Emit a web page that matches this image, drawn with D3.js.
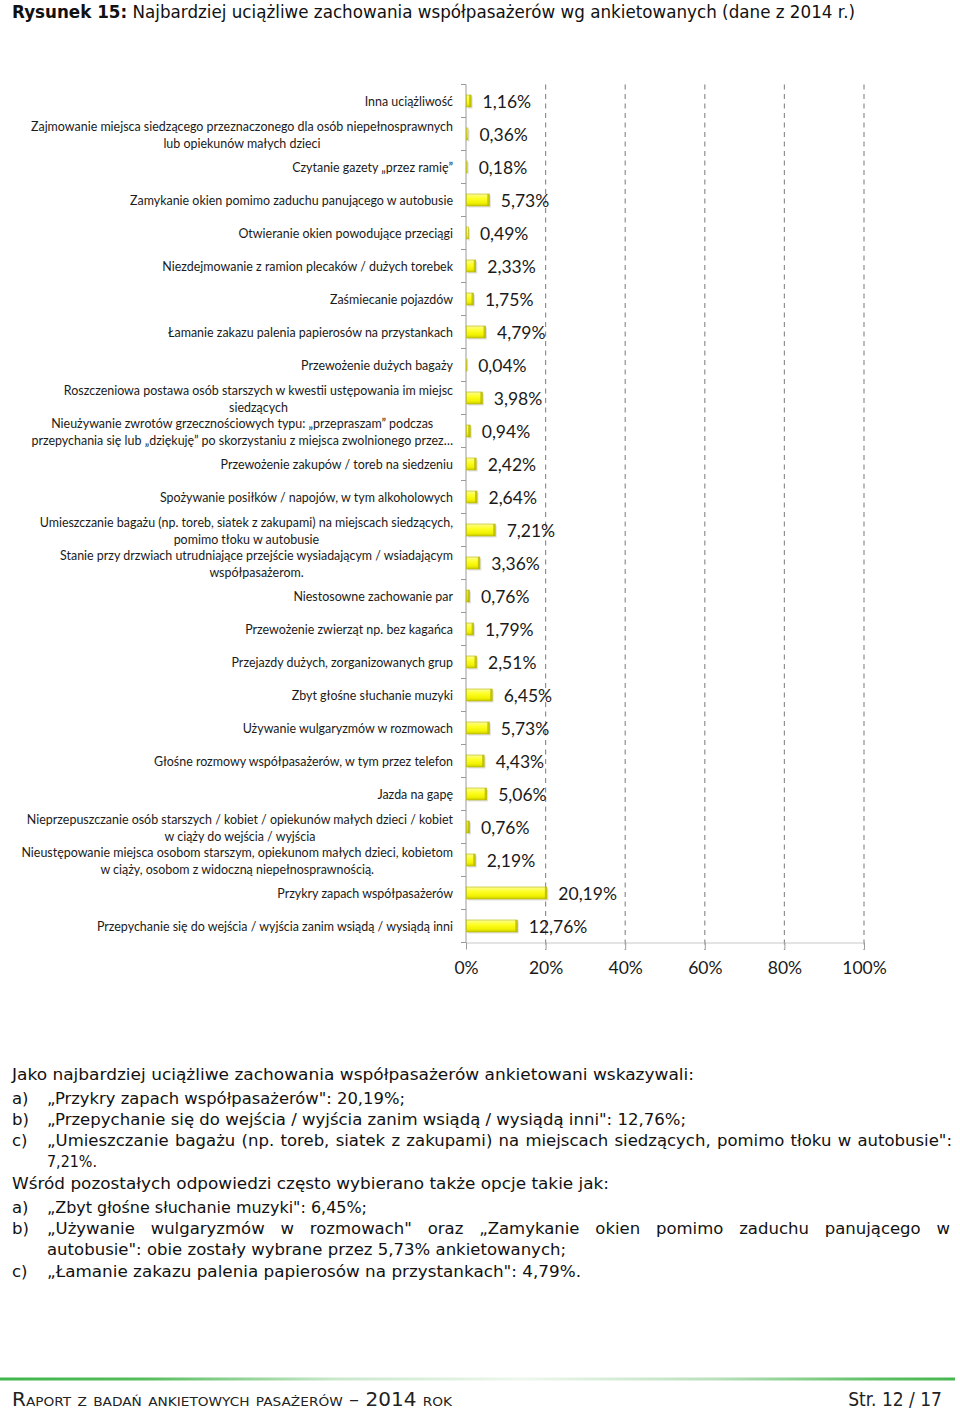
<!DOCTYPE html>
<html><head><meta charset="utf-8">
<script src="https://cdn.jsdelivr.net/npm/d3@7"></script>
<style>body{margin:0;background:#fff} svg{display:block}</style>
</head><body>
<svg id="c" width="960" height="1409"></svg>
<script>
// ---------- DATA ----------
const categories = [
  "Inna uciążliwość",
  "Zajmowanie miejsca siedzącego przeznaczonego dla osób niepełnosprawnych\nlub opiekunów małych dzieci",
  "Czytanie gazety „przez ramię”",
  "Zamykanie okien pomimo zaduchu panującego w autobusie",
  "Otwieranie okien powodujące przeciągi",
  "Niezdejmowanie z ramion plecaków / dużych torebek",
  "Zaśmiecanie pojazdów",
  "Łamanie zakazu palenia papierosów na przystankach",
  "Przewożenie dużych bagaży",
  "Roszczeniowa postawa osób starszych w kwestii ustępowania im miejsc\nsiedzących",
  "Nieużywanie zwrotów grzecznościowych typu: „przepraszam” podczas\nprzepychania się lub „dziękuję” po skorzystaniu z miejsca zwolnionego przez…",
  "Przewożenie zakupów / toreb na siedzeniu",
  "Spożywanie posiłków / napojów, w tym alkoholowych",
  "Umieszczanie bagażu (np. toreb, siatek z zakupami) na miejscach siedzących,\npomimo tłoku w autobusie",
  "Stanie przy drzwiach utrudniające przejście wysiadającym / wsiadającym\nwspółpasażerom.",
  "Niestosowne zachowanie par",
  "Przewożenie zwierząt np. bez kagańca",
  "Przejazdy dużych, zorganizowanych grup",
  "Zbyt głośne słuchanie muzyki",
  "Używanie wulgaryzmów w rozmowach",
  "Głośne rozmowy współpasażerów, w tym przez telefon",
  "Jazda na gapę",
  "Nieprzepuszczanie osób starszych / kobiet / opiekunów małych dzieci / kobiet\nw ciąży do wejścia / wyjścia",
  "Nieustępowanie miejsca osobom starszym, opiekunom małych dzieci, kobietom\nw ciąży, osobom z widoczną niepełnosprawnością.",
  "Przykry zapach współpasażerów",
  "Przepychanie się do wejścia / wyjścia zanim wsiądą / wysiądą inni"
];
const values = [1.16,0.36,0.18,5.73,0.49,2.33,1.75,4.79,0.04,3.98,0.94,2.42,2.64,7.21,3.36,0.76,1.79,2.51,6.45,5.73,4.43,5.06,0.76,2.19,20.19,12.76];
const tickValues = [0,20,40,60,80,100];
const titleBold = "Rysunek 15:";
const titleRest = " Najbardziej uciążliwe zachowania współpasażerów wg ankietowanych (dane z 2014 r.)";
const paragraphLines = [
  {mark:"", text:"Jako najbardziej uciążliwe zachowania współpasażerów ankietowani wskazywali:"},
  {mark:"a)", text:"„Przykry zapach współpasażerów\": 20,19%;"},
  {mark:"b)", text:"„Przepychanie się do wejścia / wyjścia zanim wsiądą / wysiądą inni\": 12,76%;"},
  {mark:"c)", text:"„Umieszczanie bagażu (np. toreb, siatek z zakupami) na miejscach siedzących, pomimo tłoku w autobusie\":"},
  {mark:"", text:"7,21%.", indent:true},
  {mark:"", text:"Wśród pozostałych odpowiedzi często wybierano także opcje takie jak:"},
  {mark:"a)", text:"„Zbyt głośne słuchanie muzyki\": 6,45%;"},
  {mark:"b)", text:"„Używanie wulgaryzmów w rozmowach\" oraz „Zamykanie okien pomimo zaduchu panującego w"},
  {mark:"", text:"autobusie\": obie zostały wybrane przez 5,73% ankietowanych;", indent:true},
  {mark:"c)", text:"„Łamanie zakazu palenia papierosów na przystankach\":  4,79%."}
];
const footerLeft = "Raport z badań ankietowych pasażerów – 2014 rok";
const footerRight = "Str. 12 / 17";

// ---------- LAYOUT ----------
const lineLayout = [
  {y:1080, end:694, just:false},
  {y:1104, end:405, just:false},
  {y:1125, end:686, just:false},
  {y:1146, end:952, just:true},
  {y:1167, end:97,  just:false},
  {y:1189, end:609, just:false},
  {y:1213, end:367, just:false},
  {y:1234, end:950, just:true},
  {y:1255, end:566, just:false},
  {y:1277, end:581, just:false}
];

const svg = d3.select("#c");
const defs = svg.append("defs");
const g1 = defs.append("linearGradient").attr("id","barG").attr("x1",0).attr("y1",0).attr("x2",0).attr("y2",1);
[["0%","#fbfb9c"],["35%","#ffff2a"],["75%","#f2f200"],["100%","#c9c900"]].forEach(s=>g1.append("stop").attr("offset",s[0]).attr("stop-color",s[1]));
const g2 = defs.append("linearGradient").attr("id","greenG").attr("x1",0).attr("y1",0).attr("x2",1).attr("y2",0);
[["0%","#3fb54a"],["15%","#55bd5c"],["35%","#c9e8cb"],["55%","#eef7ee"],["75%","#b9e0bb"],["92%","#5cc063"],["100%","#46b64f"]].forEach(s=>g2.append("stop").attr("offset",s[0]).attr("stop-color",s[1]));

const x = d3.scaleLinear().domain([0,100]).range([466,864]);
const y = d3.scaleBand().domain(d3.range(categories.length)).range([84.5,942.5]).padding(0);
const bottomY = 942.5;

// title
const title = svg.append("text").attr("x",12).attr("y",18)
  .style("font-family","'DejaVu Sans', sans-serif").style("font-size","17px").attr("fill","#111");
title.append("tspan").attr("font-weight","bold").text(titleBold);
title.append("tspan").text(titleRest);
title.attr("textLength",843).attr("lengthAdjust","spacingAndGlyphs");

// gridlines
svg.append("g").selectAll("line").data(tickValues.filter(d=>d>0)).join("line")
  .attr("x1",d=>x(d)).attr("x2",d=>x(d)).attr("y1",84.5).attr("y2",950)
  .attr("stroke","#8f8f8f").attr("stroke-width",1.2).attr("stroke-dasharray","5,4.5");

// bottom axis
const ax = svg.append("g").attr("transform",`translate(0,${bottomY})`)
  .call(d3.axisBottom(x).tickValues(tickValues).tickFormat(d=>d+"%").tickSize(7).tickSizeOuter(0));
ax.select(".domain").attr("stroke","#c8c8c8");
ax.selectAll(".tick line").attr("stroke","#9a9a9a");
ax.selectAll(".tick text").attr("y",31).attr("dy",0)
  .style("font-family","Lato, 'Open Sans', sans-serif").style("font-size","17.5px").attr("fill","#1a1a1a");

// left axis
svg.append("line").attr("x1",466).attr("x2",466).attr("y1",84.5).attr("y2",bottomY).attr("stroke","#9a9a9a");
svg.append("g").selectAll("line").data(d3.range(categories.length+1)).join("line")
  .attr("x1",461).attr("x2",466)
  .attr("y1",i=>84.5+i*y.step()).attr("y2",i=>84.5+i*y.step()).attr("stroke","#9a9a9a");

// bars
const bh = 12;
const bars = svg.append("g").selectAll("g").data(values).join("g");
bars.append("rect").attr("x",x(0)+2).attr("y",(d,i)=>y(i)+(y.bandwidth()-bh)/2+1.5)
  .attr("width",d=>Math.max(0,x(d)-x(0))).attr("height",bh).attr("fill","#bdbdbd").attr("opacity",0.45);
bars.append("rect").attr("x",x(0)+0.5).attr("y",(d,i)=>y(i)+(y.bandwidth()-bh)/2)
  .attr("width",d=>Math.max(0.6,x(d)-x(0))).attr("height",bh).attr("fill","url(#barG)")
  .attr("stroke","#b5b500").attr("stroke-width",0.6);
bars.append("rect").attr("x",d=>x(0)+0.5+Math.max(0.6,x(d)-x(0))-2).attr("y",(d,i)=>y(i)+(y.bandwidth()-bh)/2)
  .attr("width",d=>x(d)-x(0)>3?2:0).attr("height",bh).attr("fill","#b8b800").attr("opacity",0.8);

// value labels
svg.append("g").selectAll("text").data(values).join("text")
  .attr("x",d=>x(d)+12).attr("y",(d,i)=>y(i)+y.bandwidth()/2+1).attr("dy","0.36em")
  .style("font-family","Lato, 'Open Sans', sans-serif").style("font-size","17.5px").attr("fill","#1a1a1a")
  .text(d=>d3.format(".2f")(d).replace(".",",")+"%");

// category labels
const catG = svg.append("g").style("font-family","Lato, 'Open Sans', sans-serif").attr("fill","#1a1a1a");
const catFs = 13;
const probe = catG.append("text").style("font-size",catFs+"px").text("Zajmowanie miejsca siedzącego przeznaczonego dla osób niepełnosprawnych");
const pw = probe.node().getComputedTextLength();
probe.remove();
const ratio = 422/pw;
const rightX = 453, lh = 16.3;
categories.forEach((c,i)=>{
  const lines = c.split("\n");
  const cy = y(i)+y.bandwidth()/2+0.8;
  const ts = lines.map((l,k)=>{
    const t = catG.append("text").attr("y",cy+(k-(lines.length-1)/2)*lh).attr("dy","0.35em")
      .style("font-size",catFs+"px").text(l);
    const w = t.node().getComputedTextLength()*ratio;
    t.attr("textLength",w).attr("lengthAdjust","spacingAndGlyphs");
    t.datum(w);
    return t;
  });
  const mw = d3.max(ts,t=>t.datum());
  ts.forEach(t=>t.attr("x",rightX-mw/2-t.datum()/2));
});

// paragraph
const pg = svg.append("g").style("font-family","'DejaVu Sans', sans-serif").style("font-size","16.5px").attr("fill","#111");
paragraphLines.forEach((p,i)=>{
  const L = lineLayout[i];
  if(p.mark) pg.append("text").attr("x",12).attr("y",L.y).text(p.mark);
  const sx = (p.mark||p.indent)?47:12;
  const t = pg.append("text").attr("x",sx).attr("y",L.y).text(p.text);
  const w = t.node().getComputedTextLength();
  const target = L.end - sx;
  if(L.just){
    const spaces = (p.text.match(/ /g)||[]).length;
    t.style("word-spacing", ((target-w)/spaces)+"px");
  } else {
    t.attr("textLength",target).attr("lengthAdjust","spacingAndGlyphs");
  }
});

// footer
svg.append("rect").attr("x",0).attr("y",1377.5).attr("width",955).attr("height",3).attr("fill","url(#greenG)");
svg.append("text").attr("x",12).attr("y",1406).text(footerLeft)
  .style("font-family","'Liberation Sans Narrow','DejaVu Sans Condensed',sans-serif").style("font-size","19px")
  .style("font-variant","small-caps").attr("fill","#222")
  .attr("textLength",440).attr("lengthAdjust","spacingAndGlyphs");
svg.append("text").attr("x",942).attr("y",1406).attr("text-anchor","end").text(footerRight)
  .style("font-family","'Liberation Sans Narrow','DejaVu Sans Condensed',sans-serif").style("font-size","19px")
  .attr("fill","#222");
</script>
</body></html>
